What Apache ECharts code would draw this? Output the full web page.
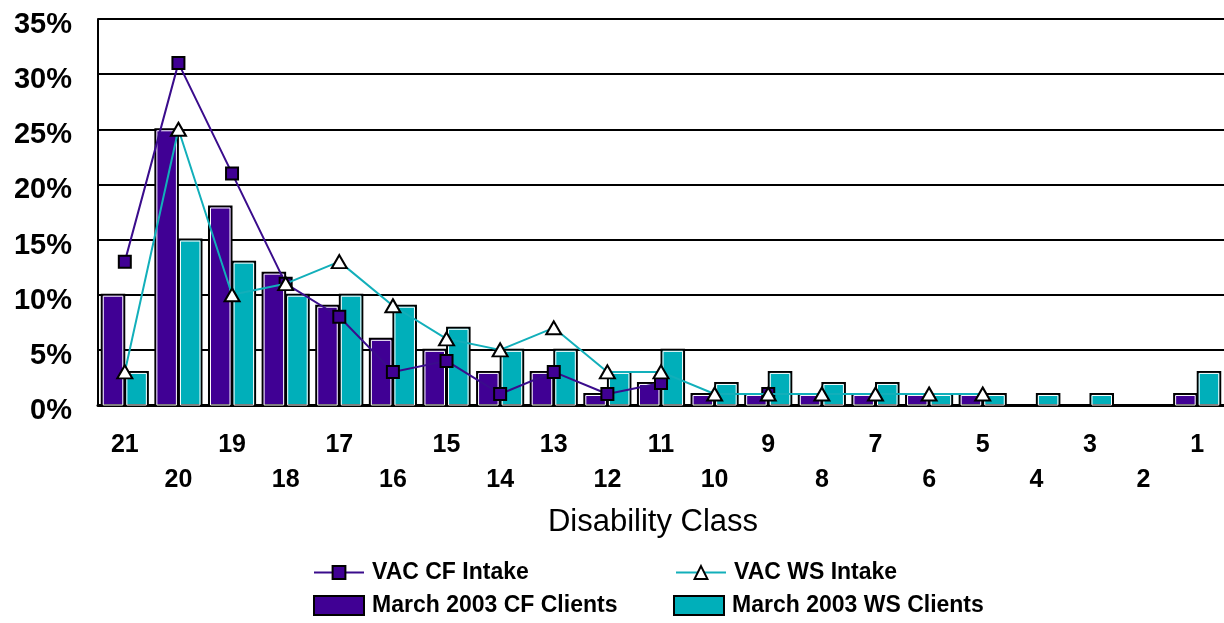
<!DOCTYPE html>
<html>
<head>
<meta charset="utf-8">
<script src="https://cdn.jsdelivr.net/npm/echarts@6/dist/echarts.min.js"></script>
<style>
  html, body { margin: 0; padding: 0; background: #fff; }
  #chart { width: 1224px; height: 623px; }
</style>
</head>
<body>
<div id="chart"></div>
<script>
// Disability classes, highest first
const classes = ['21','20','19','18','17','16','15','14','13','12','11','10','9','8','7','6','5','4','3','2','1'];

// Share of clients per class (%)
const cfClients = [10,25,18,12,9,6,5,3,3,1,2,1,1,1,1,1,1,0,0,0,1];
const wsClients = [3,15,13,10,10,9,7,5,5,3,5,2,3,2,2,1,1,1,1,0,3];

// Share of intake per class (%)
const cfIntake = [13,31,21,11,8,3,4,1,3,1,2,null,1,null,null,null,null,null,null,null,null];
const wsIntake = [3,25,10,11,13,9,6,5,7,3,3,1,1,1,1,1,1,null,null,null,null];

const yTicks = { min: 0, max: 35, step: 5 };

const PURPLE = '#400094';
const TEAL = '#00AFBA';
const PURPLE_LINE = '#3A0C8C';
const TEAL_LINE = '#12AFBA';
const FONT = "'Liberation Sans', Arial, sans-serif";

// Bars with a black outline and a thin white inner edge, placed side by side in each class
function outlinedBar(side, fill) {
  return function (params, api) {
    const v = api.value(1);
    if (!v) return null;
    const idx = api.value(0);
    const top = api.coord([idx, v]);
    const base = api.coord([idx, 0]);
    const band = api.size([1, 0])[0];
    const w = band * 0.42;
    const cx = top[0] + side * band * 0.22;
    const x = cx - w / 2;
    const h = base[1] - top[1];
    return {
      type: 'group',
      children: [
        { type: 'rect', shape: { x: x, y: top[1], width: w, height: h },
          style: { fill: fill, stroke: '#000', lineWidth: 2 } },
        { type: 'rect', shape: { x: x + 1.5, y: top[1] + 1.5, width: w - 3, height: h - 1.5 },
          style: { fill: 'none', stroke: '#fff', lineWidth: 1 } }
      ]
    };
  };
}

const chart = echarts.init(document.getElementById('chart'));

const legendText = { fontFamily: FONT, fontWeight: 'bold', fontSize: 23, color: '#000', padding: [6, 0, 0, 3] };
const barLegendStyle = (c) => ({ color: c, borderColor: '#000', borderWidth: 2 });

chart.setOption({
  animation: false,
  backgroundColor: '#fff',
  grid: { left: 98, right: -5, top: 19, bottom: 218 },
  xAxis: {
    type: 'category',
    data: classes,
    boundaryGap: true,
    axisLine: { show: true, lineStyle: { color: '#000', width: 3 } },
    axisTick: { show: false },
    axisLabel: {
      interval: 0,
      margin: 23,
      fontFamily: FONT,
      fontWeight: 'bold',
      fontSize: 25,
      color: '#000',
      lineHeight: 35,
      formatter: function (val, i) { return i % 2 === 0 ? val : '\n' + val; }
    },
    name: 'Disability Class',
    nameLocation: 'middle',
    nameGap: 102,
    nameTextStyle: { fontFamily: FONT, fontSize: 31, color: '#000', padding: [0, 16, 0, 0] }
  },
  yAxis: {
    type: 'value',
    min: yTicks.min,
    max: yTicks.max,
    interval: yTicks.step,
    axisLine: { show: true, lineStyle: { color: '#000', width: 2 } },
    axisTick: { show: false },
    splitLine: { show: true, lineStyle: { color: '#000', width: 2 } },
    axisLabel: {
      margin: 26,
      fontFamily: FONT,
      fontWeight: 'bold',
      fontSize: 29,
      color: '#000',
      verticalAlign: 'top',
      lineHeight: 12,
      formatter: '{value}%'
    }
  },
  legend: [
    { data: ['VAC CF Intake'], left: 308, top: 556, itemWidth: 50, itemHeight: 16,
      selectedMode: false, textStyle: legendText },
    { data: ['VAC WS Intake'], left: 670, top: 556, itemWidth: 50, itemHeight: 16,
      selectedMode: false, textStyle: legendText },
    { data: [{ name: 'March 2003 CF Clients', icon: 'rect', itemStyle: barLegendStyle(PURPLE) }],
      left: 308, top: 589, itemWidth: 50, itemHeight: 19, selectedMode: false, textStyle: legendText },
    { data: [{ name: 'March 2003 WS Clients', icon: 'rect', itemStyle: barLegendStyle(TEAL) }],
      left: 668, top: 589, itemWidth: 50, itemHeight: 19, selectedMode: false, textStyle: legendText }
  ],
  series: [
    {
      name: 'March 2003 CF Clients',
      type: 'custom',
      renderItem: outlinedBar(-1, PURPLE),
      encode: { x: 0, y: 1 },
      itemStyle: barLegendStyle(PURPLE),
      data: cfClients.map((v, i) => [i, v]),
      z: 2
    },
    {
      name: 'March 2003 WS Clients',
      type: 'custom',
      renderItem: outlinedBar(1, TEAL),
      encode: { x: 0, y: 1 },
      itemStyle: barLegendStyle(TEAL),
      data: wsClients.map((v, i) => [i, v]),
      z: 2
    },
    {
      name: 'VAC CF Intake',
      type: 'line',
      data: cfIntake,
      connectNulls: false,
      symbol: 'rect',
      symbolSize: 12,
      showAllSymbol: true,
      lineStyle: { color: PURPLE_LINE, width: 2 },
      itemStyle: { color: PURPLE, borderColor: '#000', borderWidth: 2 },
      z: 3
    },
    {
      name: 'VAC WS Intake',
      type: 'line',
      data: wsIntake,
      connectNulls: false,
      symbol: 'triangle',
      symbolSize: [15, 13],
      showAllSymbol: true,
      lineStyle: { color: TEAL_LINE, width: 2 },
      itemStyle: { color: '#fff', borderColor: '#000', borderWidth: 2 },
      z: 4
    }
  ]
});
</script>
</body>
</html>
